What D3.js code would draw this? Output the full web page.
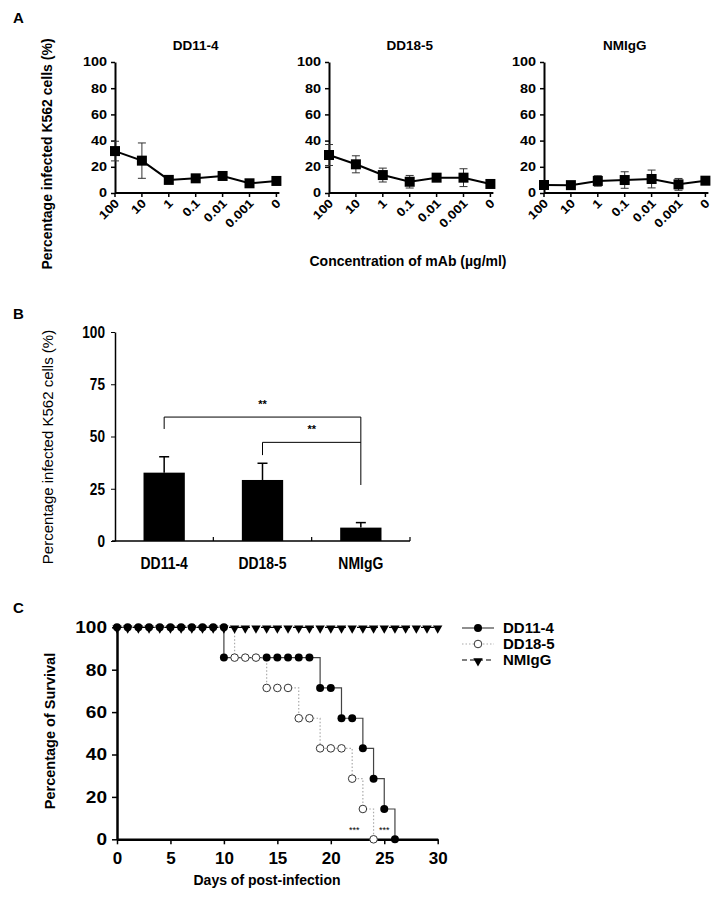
<!DOCTYPE html>
<html><head><meta charset="utf-8">
<script src="https://cdn.jsdelivr.net/npm/d3@7"></script>
<style>
html,body{margin:0;padding:0;background:#fff;}
svg text{font-family:"Liberation Sans",Arial,Helvetica,sans-serif;fill:#000;}
</style></head>
<body><svg id="c" width="717" height="899"></svg>
<script>
// ---------- Data ----------
const concLabels = ["100","10","1","0.1","0.01","0.001","0"];
const panelNames = ["DD11-4","DD18-5","NMIgG"];
const dd11Mean = [32, 24.7, 10, 11.2, 13, 7.4, 9.2];
const dd11Err  = [7.5, 13.5, 2, 2, 2, 2, 2.2];
const dd18Mean = [29, 21.9, 13.7, 8.6, 11.7, 11.7, 6.9];
const dd18Err  = [8, 6.5, 5.3, 4.8, 2, 6.8, 1.5];
const nmMean   = [6.1, 6, 9.2, 9.9, 10.7, 6.6, 9.4];
const nmErr    = [2, 1.5, 4, 6.3, 6.8, 4.5, 1.5];
const yTicksA  = [0, 20, 40, 60, 80, 100];

const barGroups = ["DD11-4","DD18-5","NMIgG"];
const barMeans  = [32.7, 29.2, 6.4];
const barErr    = [7.6, 8.0, 2.4];
const yTicksB   = [0, 25, 50, 75, 100];
const comparisons = [
  {from:"DD11-4", to:"NMIgG", y:59.3, leftLow:53.6, rightLow:26.8, label:"**"},
  {from:"DD18-5", to:"NMIgG", y:47.2, leftLow:41.1, rightLow:47.2, label:"**"}
];

const survNames = ["DD11-4","DD18-5","NMIgG"];
const dd11StepDays = [0, 10, 19, 21, 23, 24, 25, 26];
const dd11StepSurv = [100, 85.7, 71.4, 57.1, 42.9, 28.6, 14.3, 0];
const dd11MarkDays = [0,1,2,3,4,5,6,7,8,9,10, 10,14,15,16,17,18, 19,20, 21,22, 23, 24, 25, 26];
const dd11MarkSurv = [100,100,100,100,100,100,100,100,100,100,100, 85.7,85.7,85.7,85.7,85.7,85.7, 71.4,71.4, 57.1,57.1, 42.9, 28.6, 14.3, 0];
const dd18StepDays = [0, 11, 14, 17, 19, 22, 23, 24];
const dd18StepSurv = [100, 85.7, 71.4, 57.1, 42.9, 28.6, 14.3, 0];
const dd18MarkDays = [11,12,13, 14,15,16, 17,18, 19,20,21, 22, 23, 24];
const dd18MarkSurv = [85.7,85.7,85.7, 71.4,71.4,71.4, 57.1,57.1, 42.9,42.9,42.9, 28.6, 14.3, 0];
const nmStepDays = [0, 30];
const nmStepSurv = [100, 100];
const nmMarkDays = [0,1,2,3,4,5,6,7,8,9,10,11,12,13,14,15,16,17,18,19,20,21,22,23,24,25,26,27,28,29,30];
const nmMarkSurv = [100,100,100,100,100,100,100,100,100,100,100,100,100,100,100,100,100,100,100,100,100,100,100,100,100,100,100,100,100,100,100];
const xTicksC = [0, 5, 10, 15, 20, 25, 30];
const yTicksC = [0, 20, 40, 60, 80, 100];
const sigMarks = [{day: 22.2, label: "***"}, {day: 25, label: "***"}];

// ---------- helpers ----------
const svg = d3.select("#c");
function stretch(sel, f){ sel.each(function(){ const w = this.getComputedTextLength(); d3.select(this).attr("textLength", w*f).attr("lengthAdjust","spacingAndGlyphs"); }); }

// panel letters
[["A",23],["B",319],["C",613]].forEach(([t,y])=>{
  svg.append("text").attr("x",13).attr("y",y).attr("font-size",15).attr("font-weight","bold").text(t);
});

// ---------- Panel A ----------
const aTop = 62, aBot = 193;
const yA = d3.scaleLinear().domain([0,100]).range([aBot, aTop]);
const aAxisX = [115, 329, 544];
const aMeans = [dd11Mean, dd18Mean, nmMean];
const aErrs = [dd11Err, dd18Err, nmErr];
panelNames.forEach((name, pi)=>{
  const x0 = aAxisX[pi];
  const xA = d3.scalePoint().domain(concLabels).range([x0, x0 + 6*26.9]);
  const g = svg.append("g");
  // y axis
  const ya = g.append("g").attr("transform",`translate(${x0},0)`)
    .call(d3.axisLeft(yA).tickValues(yTicksA).tickSize(4).tickSizeOuter(0).tickPadding(4));
  ya.select(".domain").attr("stroke-width",2);
  ya.selectAll(".tick line").attr("stroke-width",1.5);
  ya.selectAll("text").attr("font-size",12).attr("font-weight","bold").attr("fill","#222").call(stretch,1.2);
  // x axis
  g.append("line").attr("x1",x0).attr("x2",x0+6*26.9+3).attr("y1",aBot).attr("y2",aBot).attr("stroke","#000").attr("stroke-width",2);
  g.selectAll(".xt").data(concLabels).enter().append("line")
    .attr("x1",d=>xA(d)).attr("x2",d=>xA(d)).attr("y1",aBot).attr("y2",aBot+4).attr("stroke","#000").attr("stroke-width",1.5);
  g.selectAll(".xl").data(concLabels).enter().append("text")
    .attr("transform",d=>`translate(${xA(d)+5},${aBot+11}) rotate(-45)`)
    .attr("text-anchor","end").attr("font-size",12).attr("font-weight","bold").attr("fill","#222").text(d=>d).call(stretch,1.15);
  // title
  g.append("text").attr("x", x0 + 3*26.9).attr("y",50).attr("text-anchor","middle")
    .attr("font-size",13.5).attr("font-weight","bold").text(name);
  const m = aMeans[pi], e = aErrs[pi];
  // error bars
  concLabels.forEach((c,i)=>{
    const x = xA(c);
    g.append("line").attr("x1",x).attr("x2",x).attr("y1",yA(m[i]+e[i])).attr("y2",yA(m[i]-e[i])).attr("stroke","#333").attr("stroke-width",1);
    [m[i]+e[i], m[i]-e[i]].forEach(v=>{
      g.append("line").attr("x1",x-4).attr("x2",x+4).attr("y1",yA(v)).attr("y2",yA(v)).attr("stroke","#333").attr("stroke-width",1);
    });
  });
  // line
  g.append("path").datum(concLabels.map((c,i)=>[xA(c), yA(m[i])]))
    .attr("d", d3.line()).attr("fill","none").attr("stroke","#000").attr("stroke-width",2);
  // markers
  g.selectAll(".sq").data(concLabels).enter().append("rect")
    .attr("x",(d)=>xA(d)-5).attr("y",(d,i)=>yA(m[i])-5).attr("width",10).attr("height",10).attr("fill","#000");
});
svg.append("text").attr("x",408).attr("y",266).attr("text-anchor","middle").attr("font-size",14).attr("font-weight","bold").text("Concentration of mAb (µg/ml)");
svg.append("text").attr("transform","translate(52,154) rotate(-90)").attr("text-anchor","middle").attr("font-size",14).attr("font-weight","bold").text("Percentage infected K562 cells (%)");

// ---------- Panel B ----------
const bTop = 332, bBot = 541;
const yB = d3.scaleLinear().domain([0,100]).range([bBot, bTop]);
const xB = d3.scaleBand().domain(barGroups).range([115, 410]).padding(0);
const gB = svg.append("g");
const yb = gB.append("g").attr("transform","translate(115,0)")
  .call(d3.axisLeft(yB).tickValues(yTicksB).tickSize(4).tickSizeOuter(0).tickPadding(6));
yb.select(".domain").attr("stroke-width",1.5);
yb.selectAll("text").attr("font-size",17).attr("font-weight","bold").call(stretch, 0.8);
gB.append("line").attr("x1",112).attr("x2",410).attr("y1",bBot).attr("y2",bBot).attr("stroke","#000").attr("stroke-width",1.5);
barGroups.forEach((gname)=>{
  const xr = xB(gname) + xB.bandwidth();
  gB.append("line").attr("x1",xr).attr("x2",xr).attr("y1",bBot).attr("y2",bBot-4).attr("stroke","#000").attr("stroke-width",1.2);
});
const bw = xB.bandwidth()*0.42;
barGroups.forEach((gname,i)=>{
  const cx = xB(gname) + xB.bandwidth()/2;
  gB.append("line").attr("x1",cx).attr("x2",cx).attr("y1",yB(barMeans[i])).attr("y2",yB(barMeans[i]+barErr[i])).attr("stroke","#000").attr("stroke-width",1.5);
  gB.append("line").attr("x1",cx-5).attr("x2",cx+5).attr("y1",yB(barMeans[i]+barErr[i])).attr("y2",yB(barMeans[i]+barErr[i])).attr("stroke","#000").attr("stroke-width",1.5);
  gB.append("rect").attr("x",cx-bw/2).attr("y",yB(barMeans[i])).attr("width",bw).attr("height",bBot-yB(barMeans[i])).attr("fill","#000");
  gB.append("text").attr("x",cx).attr("y",bBot+28).attr("text-anchor","middle").attr("font-size",17).attr("font-weight","bold").text(gname).call(stretch,0.82);
});
comparisons.forEach(c=>{
  const x1 = xB(c.from)+xB.bandwidth()/2, x2 = xB(c.to)+xB.bandwidth()/2;
  gB.append("path").attr("d",`M${x1},${yB(c.leftLow)}V${yB(c.y)}H${x2}V${yB(c.rightLow)}`)
    .attr("fill","none").attr("stroke","#000").attr("stroke-width",1);
  gB.append("text").attr("x",(x1+x2)/2).attr("y",yB(c.y)-9).attr("text-anchor","middle").attr("font-size",11).attr("font-weight","bold").text(c.label);
});
svg.append("text").attr("transform","translate(53,447) rotate(-90)").attr("text-anchor","middle").attr("font-size",15).text("Percentage infected K562 cells (%)");

// ---------- Panel C ----------
const cTop = 627.3, cBot = 839.3;
const xC = d3.scaleLinear().domain([0,30]).range([117, 437.7]);
const yC = d3.scaleLinear().domain([0,100]).range([cBot, cTop]);
const gC = svg.append("g");
const yc = gC.append("g").attr("transform","translate(117,0)")
  .call(d3.axisLeft(yC).tickValues(yTicksC).tickSize(5).tickSizeOuter(0).tickPadding(5));
yc.select(".domain").attr("stroke-width",2.5);
yc.selectAll(".tick line").attr("stroke-width",1.5);
yc.selectAll("text").attr("font-size",17).attr("font-weight","bold").call(stretch,1.12);
const xc = gC.append("g").attr("transform",`translate(0,${cBot})`)
  .call(d3.axisBottom(xC).tickValues(xTicksC).tickSize(5).tickSizeOuter(0).tickPadding(8));
xc.select(".domain").attr("stroke-width",2.5);
xc.selectAll(".tick line").attr("stroke-width",1.5);
xc.selectAll("text").attr("font-size",17).attr("font-weight","bold");

const step = d3.line().x(d=>xC(d[0])).y(d=>yC(d[1])).curve(d3.curveStepAfter);
const zip = (a,b)=>a.map((v,i)=>[v,b[i]]);
gC.append("path").datum(zip(dd11StepDays,dd11StepSurv)).attr("d",step).attr("fill","none").attr("stroke","#444").attr("stroke-width",1.2);
gC.append("path").datum(zip(dd18StepDays,dd18StepSurv)).attr("d",step).attr("fill","none").attr("stroke","#aaa").attr("stroke-width",1.2).attr("stroke-dasharray","1.5,2");
gC.append("path").datum(zip(nmStepDays,nmStepSurv)).attr("d",step).attr("fill","none").attr("stroke","#000").attr("stroke-width",1.2).attr("stroke-dasharray","5,3");

gC.selectAll(".o18").data(zip(dd18MarkDays,dd18MarkSurv)).enter().append("circle")
  .attr("cx",d=>xC(d[0])).attr("cy",d=>yC(d[1])).attr("r",3.8).attr("fill","#fff").attr("stroke","#333").attr("stroke-width",1);
gC.selectAll(".o11").data(zip(dd11MarkDays,dd11MarkSurv)).enter().append("circle")
  .attr("cx",d=>xC(d[0])).attr("cy",d=>yC(d[1])).attr("r",4).attr("fill","#000");
const tri = d3.symbol().type(d3.symbolTriangle).size(38);
gC.selectAll(".tnm").data(zip(nmMarkDays,nmMarkSurv)).enter().append("path")
  .attr("d",tri).attr("transform",d=>`translate(${xC(d[0])},${yC(d[1])+1}) rotate(180)`).attr("fill","#000");
sigMarks.forEach(s=>{
  gC.append("text").attr("x",xC(s.day)).attr("y",cBot-6).attr("text-anchor","middle").attr("font-size",9).attr("fill","#555").text(s.label);
});
svg.append("text").attr("x",267).attr("y",885).attr("text-anchor","middle").attr("font-size",14).attr("font-weight","bold").text("Days of post-infection");
svg.append("text").attr("transform","translate(55,731) rotate(-90)").attr("text-anchor","middle").attr("font-size",14.5).attr("font-weight","bold").text("Percentage of Survival");

// legend
const legY = [628, 644, 660];
survNames.forEach((n,i)=>{
  const y = legY[i];
  const ln = svg.append("line").attr("x1",462).attr("x2",494).attr("y1",y).attr("y2",y).attr("stroke-width",1.2);
  if(i===0){ ln.attr("stroke","#444");
    svg.append("circle").attr("cx",478).attr("cy",y).attr("r",4).attr("fill","#000"); }
  if(i===1){ ln.attr("stroke","#aaa").attr("stroke-dasharray","1.5,2");
    svg.append("circle").attr("cx",478).attr("cy",y).attr("r",3.8).attr("fill","#fff").attr("stroke","#333"); }
  if(i===2){ ln.attr("stroke","#000").attr("stroke-dasharray","5,3");
    svg.append("path").attr("d",tri).attr("transform",`translate(478,${y+1}) rotate(180)`).attr("fill","#000"); }
  svg.append("text").attr("x",503).attr("y",y+5).attr("font-size",15).attr("font-weight","bold").text(n);
});
</script></body></html>
